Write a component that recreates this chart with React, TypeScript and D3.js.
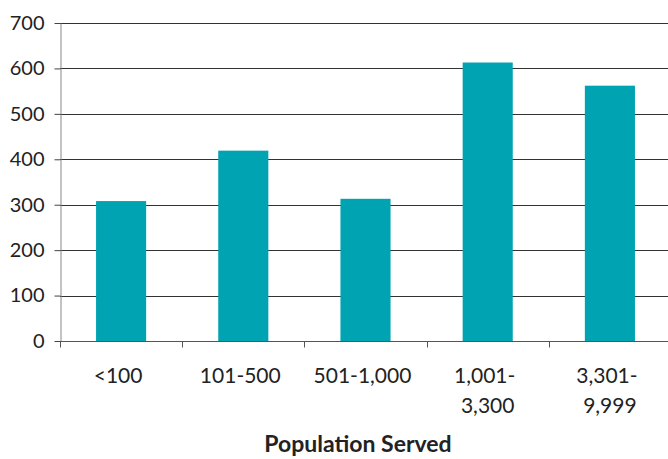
import React, { useRef, useEffect } from 'react';
import * as d3 from 'd3';

// population served categories (two-line labels split by \n)
const categories = ['<100', '101-500', '501-1,000', '1,001-\n3,300', '3,301-\n9,999'];
const values = [308, 419, 313, 613, 562];
const yTicks = [0, 100, 200, 300, 400, 500, 600, 700];
const xTitle = 'Population Served';

export default function App() {
  const svgRef = useRef<SVGSVGElement>(null);

  useEffect(() => {
    const width = 668;
    const left = 60, right = 671, top = 23, bottom = 341;
    const font = 'Lato, "DejaVu Sans", sans-serif';

    const svg = d3.select(svgRef.current);
    svg.selectAll('*').remove();

    const x = d3.scaleBand().domain(categories).range([left, right]).paddingInner(0.59).paddingOuter(0.295);
    const xTick = d3.scaleBand().domain(categories).range([left, right]);
    const y = d3.scaleLinear().domain([0, 700]).range([bottom, top]);

    // gridlines
    svg.append('g')
      .selectAll('line')
      .data(yTicks.filter(d => d > 0))
      .enter().append('line')
      .attr('x1', left).attr('x2', width)
      .attr('y1', d => Math.round(y(d)) + 0.5).attr('y2', d => Math.round(y(d)) + 0.5)
      .attr('stroke', '#333').attr('stroke-width', 1.2);

    // bars
    svg.append('g')
      .selectAll('rect')
      .data(values)
      .enter().append('rect')
      .attr('x', (d, i) => x(categories[i]))
      .attr('width', x.bandwidth())
      .attr('y', d => y(d))
      .attr('height', d => y(0) - y(d))
      .attr('fill', '#00A3B2');

    // y axis
    const yAxis = svg.append('g')
      .attr('transform', `translate(${left + 0.5},0)`)
      .call(d3.axisLeft(y).tickValues(yTicks).tickSize(6).tickPadding(10).tickSizeOuter(0));
    yAxis.select('.domain').attr('stroke', '#888');
    yAxis.selectAll('.tick line').attr('stroke', '#444');
    yAxis.selectAll('text').attr('font-family', font).attr('font-size', 20).attr('fill', '#222');

    // x axis
    const xAxis = svg.append('g').attr('transform', `translate(0,${bottom + 0.5})`);
    xAxis.append('line').attr('x1', left).attr('x2', width).attr('stroke', '#555');
    xAxis.selectAll('.tk')
      .data(categories)
      .enter().append('line')
      .attr('x1', d => Math.round(xTick(d)) + 0.5).attr('x2', d => Math.round(xTick(d)) + 0.5)
      .attr('y1', 0).attr('y2', 6)
      .attr('stroke', '#555');

    const labels = svg.append('g');
    categories.forEach(c => {
      const t = labels.append('text')
        .attr('y', 383)
        .attr('text-anchor', 'middle')
        .attr('font-family', font).attr('font-size', 21).attr('fill', '#222');
      c.split('\n').forEach((line, i) => {
        t.append('tspan').attr('x', x(c) + x.bandwidth() / 2 + (i === 1 ? 0 : -3)).attr('dy', i === 0 ? 0 : 30).text(line);
      });
    });

    svg.append('text')
      .attr('x', 358).attr('y', 452)
      .attr('text-anchor', 'middle')
      .attr('font-family', font).attr('font-size', 23).attr('font-weight', 'bold').attr('fill', '#222')
      .text(xTitle);
  }, []);

  return (
    <svg ref={svgRef} width={668} height={459} style={{ position: 'absolute', left: 0, top: 0, background: '#fff' }} />
  );
}
